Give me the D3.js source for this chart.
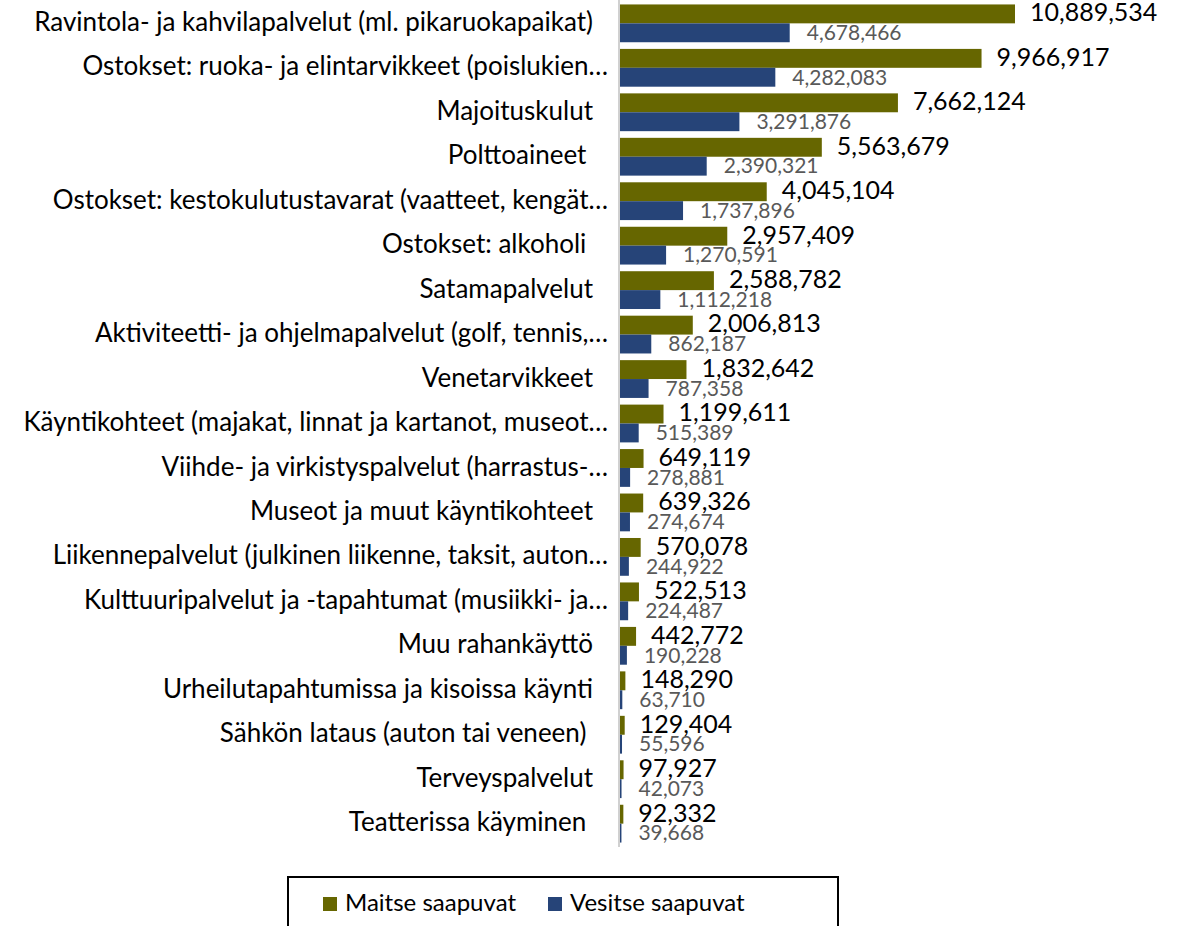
<!DOCTYPE html>
<html>
<head>
<meta charset="utf-8">
<script src="https://cdn.jsdelivr.net/npm/d3@7"></script>
<style>
  html, body { margin: 0; padding: 0; background: #fff; overflow: hidden; }
  text { font-family: Lato, "Noto Sans", sans-serif; white-space: pre; }
</style>
</head>
<body>
<div id="chart"></div>
<script>
'use strict'

// categories, top to bottom (trailing spaces kept as in the source)
const categories = [
    "Ravintola- ja kahvilapalvelut (ml. pikaruokapaikat)",
    "Ostokset: ruoka- ja elintarvikkeet (poislukien…",
    "Majoituskulut",
    "Polttoaineet ",
    "Ostokset: kestokulutustavarat (vaatteet, kengät…",
    "Ostokset: alkoholi ",
    "Satamapalvelut",
    "Aktiviteetti- ja ohjelmapalvelut (golf, tennis,…",
    "Venetarvikkeet",
    "Käyntikohteet (majakat, linnat ja kartanot, museot…",
    "Viihde- ja virkistyspalvelut (harrastus-…",
    "Museot ja muut käyntikohteet",
    "Liikennepalvelut (julkinen liikenne, taksit, auton…",
    "Kulttuuripalvelut ja -tapahtumat (musiikki- ja…",
    "Muu rahankäyttö",
    "Urheilutapahtumissa ja kisoissa käynti",
    "Sähkön lataus (auton tai veneen) ",
    "Terveyspalvelut",
    "Teatterissa käyminen "
]

const maitse = [10889534, 9966917, 7662124, 5563679, 4045104, 2957409, 2588782, 2006813, 1832642,
    1199611, 649119, 639326, 570078, 522513, 442772, 148290, 129404, 97927, 92332]

const vesitse = [4678466, 4282083, 3291876, 2390321, 1737896, 1270591, 1112218, 862187, 787358,
    515389, 278881, 274674, 244922, 224487, 190228, 63710, 55596, 42073, 39668]

const seriesNames = ["Maitse saapuvat", "Vesitse saapuvat"]
const seriesColors = ["#666600", "#264478"]
const labelColors = ["#000000", "#595959"]

////////////////////////////////////
//////////// svg setup /////////////
////////////////////////////////////

const svgWidth = 1186
const svgHeight = 926
const axisX = 620
const plotBottom = 847

const svg = d3.select('#chart')
    .append('svg')
    .attr('width', svgWidth)
    .attr('height', svgHeight)

////////////////////////////////////
//////////// Scales ////////////////
////////////////////////////////////

const y = d3.scaleBand()
    .domain(categories)
    .range([0, plotBottom])
    .paddingInner(0.15)
    .paddingOuter(0.1)

const ySub = d3.scaleBand()
    .domain([0, 1])
    .range([0, y.bandwidth()])

const x = d3.scaleLinear()
    .domain([0, 10889534])
    .range([axisX, axisX + 395])

const fmt = d3.format(',')

const rows = categories.map((c, i) => ({ cat: c, vals: [maitse[i], vesitse[i]] }))

////////////////////////////////////
//////////// add to DOM ////////////
////////////////////////////////////

const group = svg.selectAll('.group')
    .data(rows)
    .join('g')
    .attr('class', 'group')
    .attr('transform', d => `translate(0,${y(d.cat)})`)

group.selectAll('rect')
    .data(d => d.vals.map((v, s) => ({ v, s })))
    .join('rect')
    .attr('x', x(0))
    .attr('y', d => ySub(d.s))
    .attr('width', d => Math.max(0, x(d.v) - x(0)))
    .attr('height', ySub.bandwidth())
    .attr('fill', d => seriesColors[d.s])

// value labels
group.selectAll('.val')
    .data(d => d.vals.map((v, s) => ({ v, s })))
    .join('text')
    .attr('class', 'val')
    .attr('x', d => x(d.v) + (d.s === 0 ? 15 : 17))
    .attr('y', d => ySub(d.s) + ySub.bandwidth() / 2 + (d.s === 0 ? 1 : 2))
    .attr('dominant-baseline', 'middle')
    .attr('font-size', d => d.s === 0 ? 25 : 21)
    .attr('fill', d => labelColors[d.s])
    .text(d => fmt(d.v))

// category labels
svg.selectAll('.cat')
    .data(categories)
    .join('text')
    .attr('class', 'cat')
    .attr('x', d => d.endsWith('…') ? 608 : 593)
    .attr('y', d => y(d) + y.bandwidth() / 2 + 1)
    .attr('text-anchor', 'end')
    .attr('dominant-baseline', 'middle')
    .attr('font-size', 26)
    .attr('fill', '#000')
    .text(d => d)

// vertical axis line
svg.append('line')
    .attr('x1', axisX - 1).attr('x2', axisX - 1)
    .attr('y1', 0).attr('y2', plotBottom)
    .attr('stroke', '#d0d0d0')
    .attr('stroke-width', 2)

////////////////////////////////////
//////////// legend ////////////////
////////////////////////////////////

svg.append('rect')
    .attr('x', 288).attr('y', 877)
    .attr('width', 550).attr('height', 70)
    .attr('fill', 'none')
    .attr('stroke', '#000')
    .attr('stroke-width', 2)

const legendX = [323, 548]
const legend = svg.selectAll('.legend')
    .data(seriesNames)
    .join('g')
    .attr('class', 'legend')
    .attr('transform', (d, i) => `translate(${legendX[i]},904)`)

legend.append('rect')
    .attr('x', 0).attr('y', -7)
    .attr('width', 14).attr('height', 14)
    .attr('fill', (d, i) => seriesColors[i])

legend.append('text')
    .attr('x', 22).attr('y', 1)
    .attr('dominant-baseline', 'middle')
    .attr('font-size', 24)
    .text(d => d)

// slide page number, cut off at the bottom edge
svg.append('text')
    .attr('x', 1153).attr('y', 942)
    .attr('text-anchor', 'middle')
    .attr('font-size', 22)
    .attr('fill', '#8db3e2')
    .text('23')
</script>
</body>
</html>
